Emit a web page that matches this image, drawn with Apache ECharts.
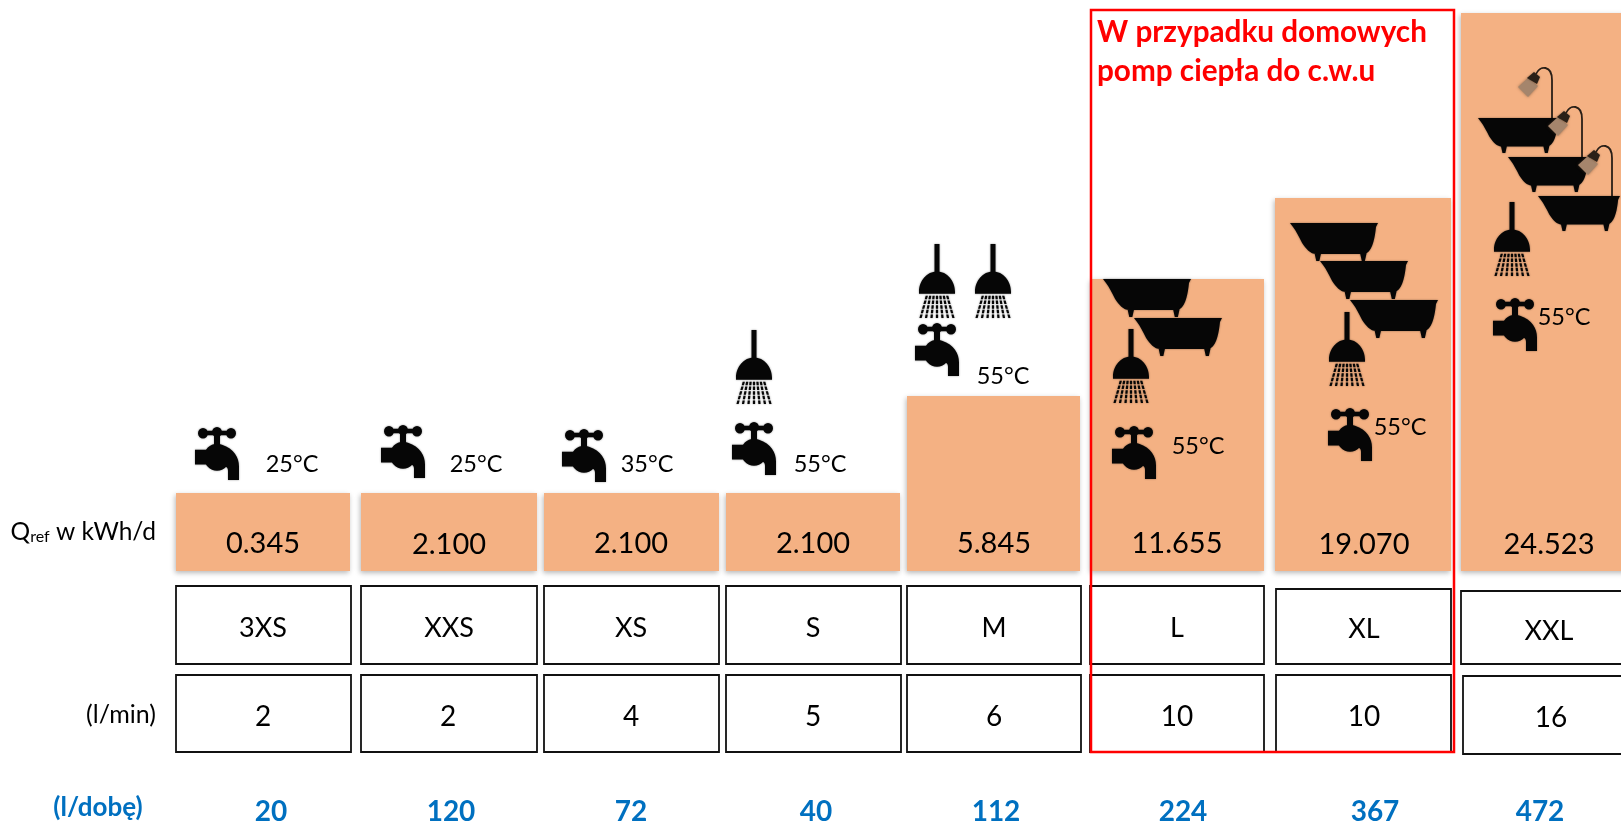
<!DOCTYPE html>
<html>
<head>
<meta charset="utf-8">
<style>html,body{margin:0;padding:0;background:#fff}#c{width:1621px;height:823px}</style>
<script src="https://cdn.jsdelivr.net/npm/echarts@6/dist/echarts.min.js"></script>
</head>
<body>
<div id="c"></div>
<script>
// ---------- data ----------
const categories = ['3XS', 'XXS', 'XS', 'S', 'M', 'L', 'XL', 'XXL'];
const qrefLabels = ['0.345', '2.100', '2.100', '2.100', '5.845', '11.655', '19.070', '24.523'];
const barHeights = [78, 78, 78, 78, 175, 292, 373, 558];
const flowPerMin = ['2', '2', '4', '5', '6', '10', '10', '16'];
const litresPerDay = ['20', '120', '72', '40', '112', '224', '367', '472'];
const temperatures = ['25°C', '25°C', '35°C', '55°C', '55°C', '55°C', '55°C', '55°C'];
const rowLabelFlow = '(l/min)';
const rowLabelDay = '(l/dobę)';
const titleLines = ['W przypadku domowych', 'pomp ciepła do c.w.u'];

// ---------- layout (pixels) ----------
const FONT = 'Lato, "Open Sans", sans-serif';
const barEdges = [[176,350],[361,537],[544,719],[726,900],[907,1080],[1091,1264],[1275,1451],[1461,1640]];
const sizeBox = [[176,351,586,664],[361,537,586,664],[544,719,586,664],[726,901,586,664],[907,1081,586,664],[1090,1264,586,664],[1276,1451,589,664],[1461,1640,591,664]];
const flowBox = [[176,351,675,752],[361,537,675,752],[544,719,675,752],[726,901,675,752],[907,1081,675,752],[1090,1264,675,752],[1276,1451,675,752],[1463,1640,676,754]];
const qrefY = [544,545,544,544,544,544,545,545];
const qrefX = [263,449,631,813,994,1177,1364,1549];
const sizeY = [628,628,628,628,628,628,629,631];
const flowX = [263,448,631,813,994,1177,1364,1551];
const flowY = [717,717,717,717,717,717,717,718];
const dayX = [271,451,631,816,996,1183,1375,1540];
const tempPos = [[292,464],[476,464],[647,464],[820,464],[1003,376],[1198,446],[1400,427],[1564,317]];
const faucets = [[195,427],[381,425],[562,429],[732,422],[915,323],[1112,426],[1328,408],[1493,298]];
const showers = [[736,330],[919,244],[975,244],[1113,329],[1329,312],[1494,202]];
const tubs = [[1103,279],[1134,318],[1290,223],[1320,261],[1350,300]];
const wallTubs = [[1478,118],[1508,157],[1538,196]];

// ---------- icon outlines ----------
function circle(cx, cy, r) {
  return 'M' + (cx - r) + ' ' + cy + 'A' + r + ' ' + r + ' 0 1 1 ' + (cx + r) + ' ' + cy +
         'A' + r + ' ' + r + ' 0 1 1 ' + (cx - r) + ' ' + cy + 'Z';
}
const faucetPath =
  circle(8, 8, 5) + circle(22, 7, 5) + circle(36, 8, 5) +
  'M8 5.5H36V10H8Z M19 3H25V22H19Z' + circle(22, 31, 13) +
  'M0 24H14V38H0Z M20 19H27C39 23 44 31 44 40V53H33V44C33 41 31 39 26 39H20Z';
function showerPathBuild() {
  let p = 'M15.5 0H20.5V30H15.5Z M0 47C0 36 8 27 18 27C28 27 36 36 36 47V49H0Z';
  for (let k = -3; k <= 3; k++) {
    for (let j = 0; j < 5; j++) {
      const t0 = j / 5, t1 = t0 + 0.74 / 5;
      const x0 = 18 + k * (3.4 + 2.2 * t0), x1 = 18 + k * (3.4 + 2.2 * t1);
      const y0 = 51 + 23 * t0, y1 = 51 + 23 * t1;
      p += 'M' + (x0 - 1.1) + ' ' + y0 + 'H' + (x0 + 1.1) + 'L' + (x1 + 1.1) + ' ' + y1 + 'H' + (x1 - 1.1) + 'Z';
    }
  }
  return p;
}
const showerPath = showerPathBuild();
const tubPath = 'M0 0H87L85 4C84 14 82 26 76 30C74 31 72 31 70 31H26C20 31 16 26 12 20C9 14 6 8 3 4Z M24 29H31L29 38H26Z M69 29H76L74 38H71Z';

function pathEl(d, x, y, w, h, fill) {
  return { type: 'path', shape: { pathData: d, x: x, y: y, width: w, height: h, layout: 'cover' },
           style: { fill: fill || '#060606', shadowBlur: 2, shadowColor: 'rgba(0,0,0,0.45)' } };
}
function textEl(s, x, y, size, opts) {
  opts = opts || {};
  return { type: 'text', x: x, y: y, style: {
    text: s, fontFamily: FONT, fontSize: size, fontWeight: opts.bold ? 'bold' : 'normal',
    fill: opts.color || '#000', align: opts.align || 'center', verticalAlign: 'middle' } };
}
function boxEl(b) {
  return { type: 'rect', shape: { x: b[0], y: b[2], width: b[1] - b[0], height: b[3] - b[2] },
           style: { fill: '#fff', stroke: '#111', lineWidth: 1.8 } };
}

const chart = echarts.init(document.getElementById('c'), null, { renderer: 'canvas' });

function decorations() {
  const kids = [];
  faucets.forEach(p => kids.push(pathEl(faucetPath, p[0], p[1], 44, 53)));
  showers.forEach(p => kids.push(pathEl(showerPath, p[0], p[1], 36, 74)));
  tubs.forEach(p => kids.push(pathEl(tubPath, p[0], p[1], 88, 38)));
  wallTubs.forEach(p => {
    const x = p[0], y = p[1];
    kids.push({ type: 'path', shape: { pathData: 'M' + (x + 74) + ' ' + (y + 2) + 'V' + (y - 38) + 'C' + (x + 74) + ' ' + (y - 53) + ' ' + (x + 62) + ' ' + (y - 53) + ' ' + (x + 58) + ' ' + (y - 44) },
      style: { fill: 'none', stroke: '#2a2018', lineWidth: 1.8 } });
    kids.push({ type: 'polygon', shape: { points: [[x + 50, y - 40], [x + 60, y - 32], [x + 50, y - 21], [x + 40, y - 31]] },
      style: { fill: '#a5856c', shadowBlur: 3, shadowColor: 'rgba(90,65,45,0.6)' } });
    kids.push({ type: 'polygon', shape: { points: [[x + 56, y - 46], [x + 62, y - 41], [x + 59, y - 34], [x + 49, y - 40]] },
      style: { fill: '#2a2018', shadowBlur: 2, shadowColor: 'rgba(40,30,20,0.5)' } });
    kids.push(pathEl(tubPath, x, y, 82, 35));
  });
  temperatures.forEach((t, i) => kids.push(textEl(t, tempPos[i][0], tempPos[i][1], 23.5)));
  kids.push({ type: 'text', x: 156, y: 532, style: {
    text: '{a|Q}{b|ref}{a| w kWh/d}', align: 'right', verticalAlign: 'middle', fontFamily: FONT,
    rich: { a: { fontFamily: FONT, fontSize: 24.5, fill: '#000' },
            b: { fontFamily: FONT, fontSize: 16, fill: '#000', padding: [10, 0, 0, 0] } } } });
  kids.push(textEl(rowLabelFlow, 156, 715, 25, { align: 'right' }));
  kids.push(textEl(rowLabelDay, 98, 808, 26, { bold: true, color: '#0070c0' }));
  litresPerDay.forEach((t, i) => kids.push(textEl(t, dayX[i], 812, 28, { bold: true, color: '#0070c0' })));
  kids.push(textEl(titleLines[0], 1097, 32, 29.7, { bold: true, color: '#ff0000', align: 'left' }));
  kids.push(textEl(titleLines[1], 1097, 71, 29.7, { bold: true, color: '#ff0000', align: 'left' }));
  kids.push({ type: 'rect', shape: { x: 1091, y: 10, width: 363, height: 742 },
    style: { fill: 'none', stroke: '#ff0000', lineWidth: 2.5 } });
  return { type: 'group', children: kids };
}

chart.setOption({
  animation: false,
  backgroundColor: '#fff',
  grid: { left: 171, right: -14, top: 0, height: 571 },
  xAxis: { type: 'category', data: categories, show: false },
  yAxis: { type: 'value', min: 0, max: 571, show: false },
  series: [
    { // orange bars, height taken through the value axis
      type: 'custom',
      data: barHeights.map((v, i) => [i, v]),
      encode: { x: 0, y: 1 },
      clip: false,
      z: 1,
      renderItem(params, api) {
        const i = api.value(0);
        const top = api.coord([i, api.value(1)])[1];
        const base = api.coord([i, 0])[1];
        const e = barEdges[i];
        return { type: 'rect', shape: { x: e[0], y: top, width: e[1] - e[0], height: base - top },
          style: { fill: '#f4b183', shadowBlur: 5, shadowOffsetX: -1, shadowOffsetY: 2, shadowColor: 'rgba(0,0,0,0.28)' } };
      }
    },
    { // value text in bars and both boxed table rows
      type: 'custom',
      data: categories.map((c, i) => [i, 0]),
      encode: { x: 0, y: 1 },
      clip: false,
      z: 2,
      renderItem(params, api) {
        const i = api.value(0);
        return { type: 'group', children: [
          textEl(qrefLabels[i], qrefX[i], qrefY[i], 29),
          boxEl(sizeBox[i]),
          textEl(categories[i], qrefX[i], sizeY[i], 27),
          boxEl(flowBox[i]),
          textEl(flowPerMin[i], flowX[i], flowY[i], 28)
        ] };
      }
    },
    { // icons, temperatures, row labels, daily volumes, red highlight
      type: 'custom',
      coordinateSystem: 'none',
      data: [[0]],
      clip: false,
      z: 3,
      renderItem() { return decorations(); }
    }
  ]
});
</script>
</body>
</html>
